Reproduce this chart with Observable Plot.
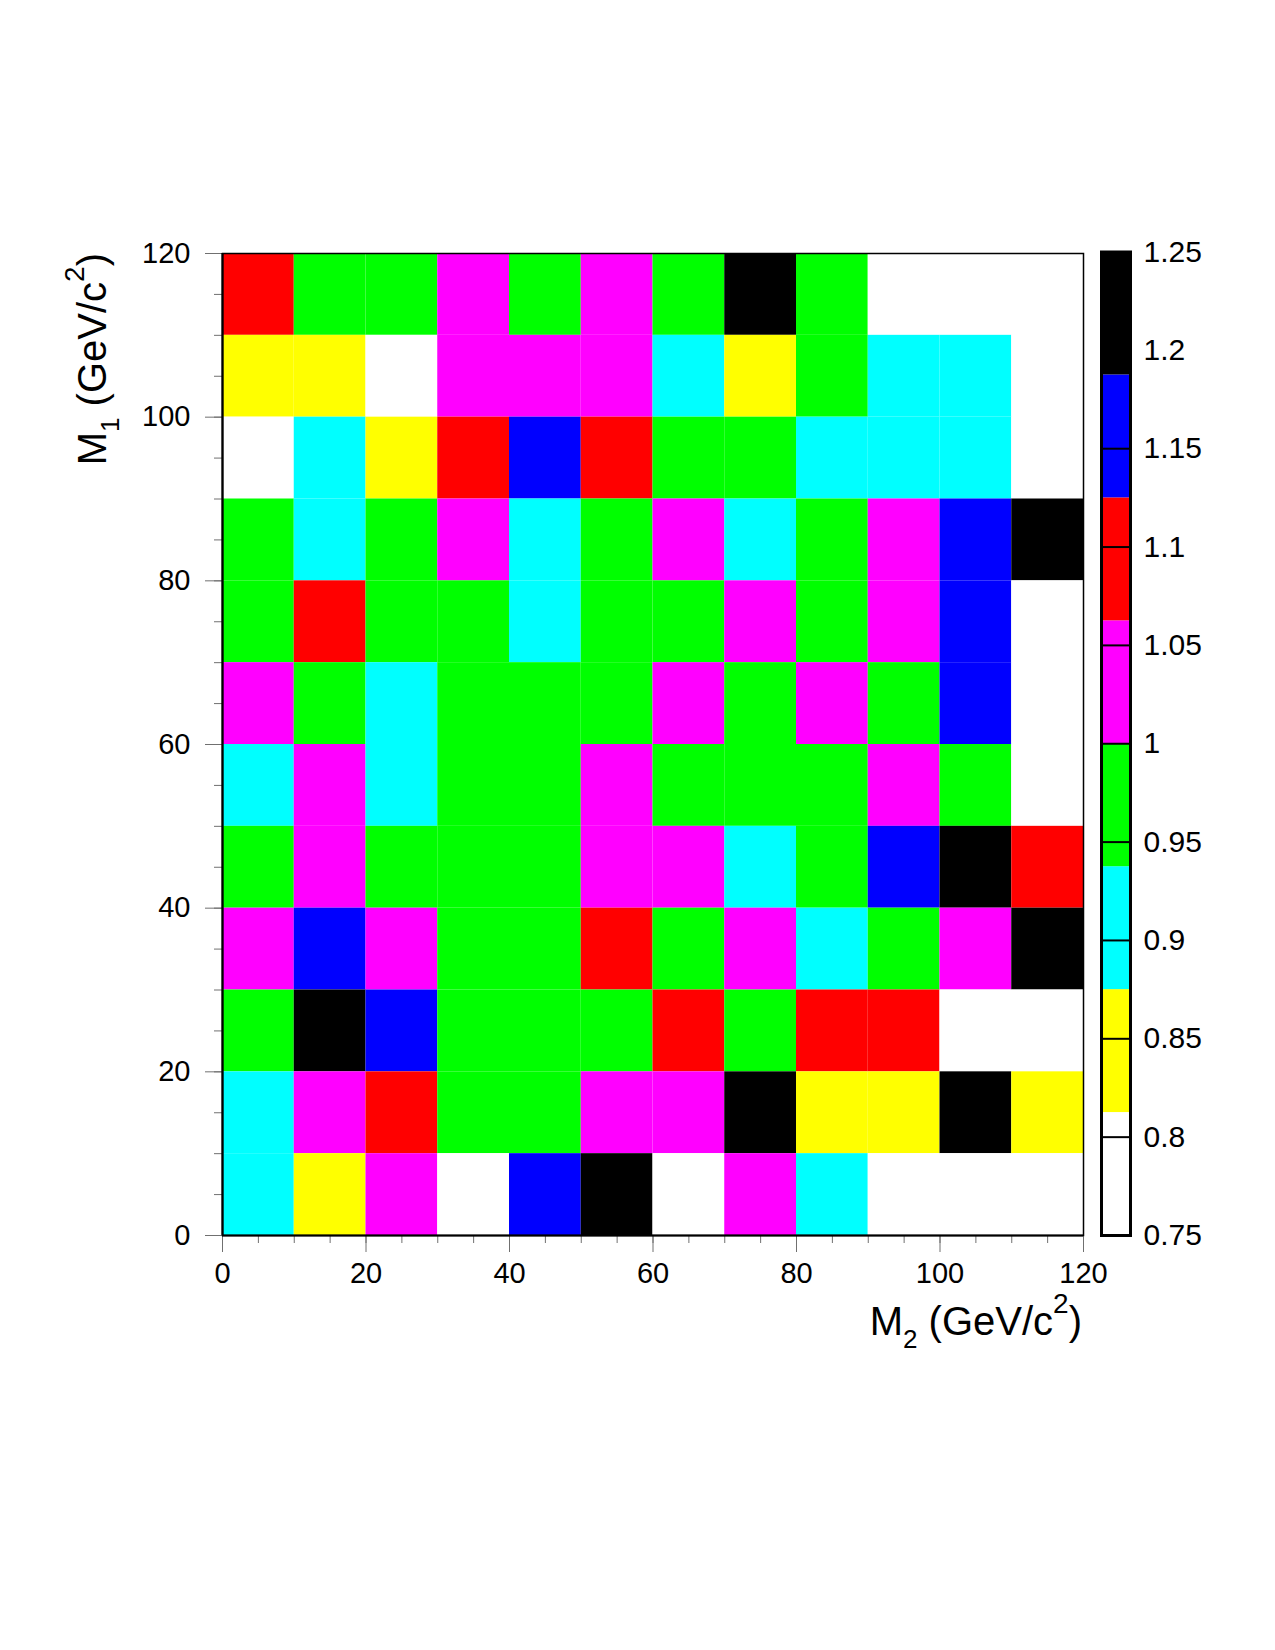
<!DOCTYPE html>
<html><head><meta charset="utf-8">
<script src="https://cdn.jsdelivr.net/npm/d3@7"></script>
<script src="https://cdn.jsdelivr.net/npm/@observablehq/plot@0.6"></script>
<style>
body{margin:0;background:#fff}
#wrap{position:relative;width:1275px;height:1650px;background:#fff}
#wrap svg{position:absolute;overflow:visible}
</style>
</head><body><div id="wrap"></div>
<script>
// ---- data ----
const binWidth = 10;
const m2Bins = [0,10,20,30,40,50,60,70,80,90,100,110];          // x (M2) bin lower edges
const m1Bins = [110,100,90,80,70,60,50,40,30,20,10,0];          // y (M1) bin lower edges, rows top -> bottom
const row110 = [1.09,0.97,0.96,1.03,0.98,1.02,0.97,1.22,0.96,0.78,0.78,0.78];
const row100 = [0.84,0.85,0.79,1.04,1.02,1.03,0.91,0.83,0.97,0.90,0.91,0.78];
const row90  = [0.79,0.90,0.84,1.09,1.16,1.10,0.97,0.96,0.91,0.90,0.92,0.78];
const row80  = [0.97,0.91,0.98,1.03,0.90,0.97,1.04,0.91,0.96,1.02,1.15,1.23];
const row70  = [0.96,1.08,0.97,0.98,0.91,0.97,0.96,1.03,0.97,1.04,1.16,0.78];
const row60  = [1.03,0.97,0.92,0.98,0.99,0.97,1.02,0.96,1.03,0.97,1.17,0.78];
const row50  = [0.91,1.03,0.90,0.98,0.99,1.02,0.97,0.98,0.96,1.04,0.97,0.78];
const row40  = [0.97,1.04,0.96,0.98,0.99,1.02,1.03,0.91,0.97,1.15,1.22,1.09];
const row30  = [1.03,1.16,1.04,0.98,0.99,1.09,0.97,1.02,0.90,0.96,1.03,1.23];
const row20  = [0.96,1.21,1.15,0.98,0.99,0.97,1.10,0.96,1.08,1.09,0.78,0.78];
const row10  = [0.91,1.03,1.09,0.98,0.97,1.02,1.04,1.22,0.84,0.83,1.21,0.85];
const row0   = [0.90,0.84,1.03,0.79,1.16,1.22,0.78,1.03,0.91,0.78,0.78,0.78];
const rows = [row110,row100,row90,row80,row70,row60,row50,row40,row30,row20,row10,row0];

const colorLevels = [0.75,0.8125,0.875,0.9375,1.0,1.0625,1.125,1.1875,1.25];
const paletteColors = ["#ffffff","#ffff00","#00ffff","#00ff00","#ff00ff","#ff0000","#0000ff","#000000"];
const zTicks = [0.75,0.8,0.85,0.9,0.95,1,1.05,1.1,1.15,1.2,1.25];
const axisTicks = [0,20,40,60,80,100,120];
const minorTicks = [0,5,10,15,20,25,30,35,40,45,50,55,60,65,70,75,80,85,90,95,100,105,110,115,120];

// ---- build ----
const cells = rows.flatMap((row, r) => row.map((v, c) => ({m2: m2Bins[c], m1: m1Bins[r], v})));
const bands = colorLevels.slice(0, -1).map((lo, i) => ({lo, hi: colorLevels[i + 1]}));
const colorScale = {type: "threshold", domain: colorLevels.slice(1, -1), range: paletteColors};
const font = "'Liberation Sans', Arial, Helvetica, sans-serif";
const tickGrey = "#707070";

const main = Plot.plot({
  width: 1275, height: 1650,
  marginLeft: 222, marginRight: 192, marginTop: 253, marginBottom: 415,
  x: {domain: [0, 120], axis: null},
  y: {domain: [0, 120], axis: null},
  color: colorScale,
  style: {fontFamily: font, color: "#000", background: "transparent"},
  marks: [
    Plot.rect(cells, {x1: "m2", x2: d => d.m2 + binWidth, y1: "m1", y2: d => d.m1 + binWidth, fill: "v"}),
    Plot.axisX({ticks: minorTicks, tickSize: 8, stroke: tickGrey, fill: "none", label: null}),
    Plot.axisY({ticks: minorTicks, tickSize: 8, stroke: tickGrey, fill: "none", label: null}),
    Plot.axisX({ticks: axisTicks, tickSize: 17, tickPadding: 10, stroke: tickGrey, fill: "#000", fontSize: 29, label: null, tickFormat: d => String(d)}),
    Plot.axisY({ticks: axisTicks, tickSize: 17, tickPadding: 15, stroke: tickGrey, fill: "#000", fontSize: 29, label: null, tickFormat: d => String(d)}),
    Plot.frame({stroke: "#000", strokeWidth: 1.5}),
    Plot.ruleX([0], {stroke: "#000", strokeWidth: 2.2}),
    Plot.ruleY([0], {stroke: "#000", strokeWidth: 2.2})
  ]
});
main.style.left = "0px"; main.style.top = "0px";
document.getElementById("wrap").appendChild(main);

// axis titles with sub/superscripts
function addTitle(svg, transform, sub) {
  const t = d3.select(svg).append("text")
    .attr("transform", transform)
    .attr("text-anchor", "end")
    .attr("font-family", font)
    .attr("font-size", 40)
    .attr("fill", "#000");
  t.append("tspan").text("M");
  t.append("tspan").attr("font-size", 26).attr("dy", 13).text(sub);
  t.append("tspan").attr("dy", -13).text(" (GeV/c");
  t.append("tspan").attr("font-size", 28).attr("dy", -22).text("2");
  t.append("tspan").attr("dy", 22).text(")");
}
addTitle(main, "translate(1082,1335)", "2");
addTitle(main, "translate(106,253) rotate(-90)", "1");

// colour bar
const bar = Plot.plot({
  width: 175, height: 1650,
  marginLeft: 2, marginRight: 144, marginTop: 251.5, marginBottom: 415,
  x: {domain: [0, 1], axis: null},
  y: {domain: [0.75, 1.25], axis: null},
  color: colorScale,
  style: {fontFamily: font, color: "#000", background: "transparent"},
  marks: [
    Plot.rect(bands, {x1: 0, x2: 1, y1: "lo", y2: "hi", fill: d => (d.lo + d.hi) / 2}),
    Plot.ruleY(zTicks, {stroke: "#000", strokeWidth: 2}),
    Plot.frame({stroke: "#000", strokeWidth: 3}),
    Plot.axisY({anchor: "right", ticks: zTicks, tickSize: 0, tickPadding: 13, fontSize: 30, fill: "#000", label: null, tickFormat: d => String(+d.toFixed(2))})
  ]
});
bar.style.left = "1099px"; bar.style.top = "0px";
document.getElementById("wrap").appendChild(bar);
</script>
</body></html>
